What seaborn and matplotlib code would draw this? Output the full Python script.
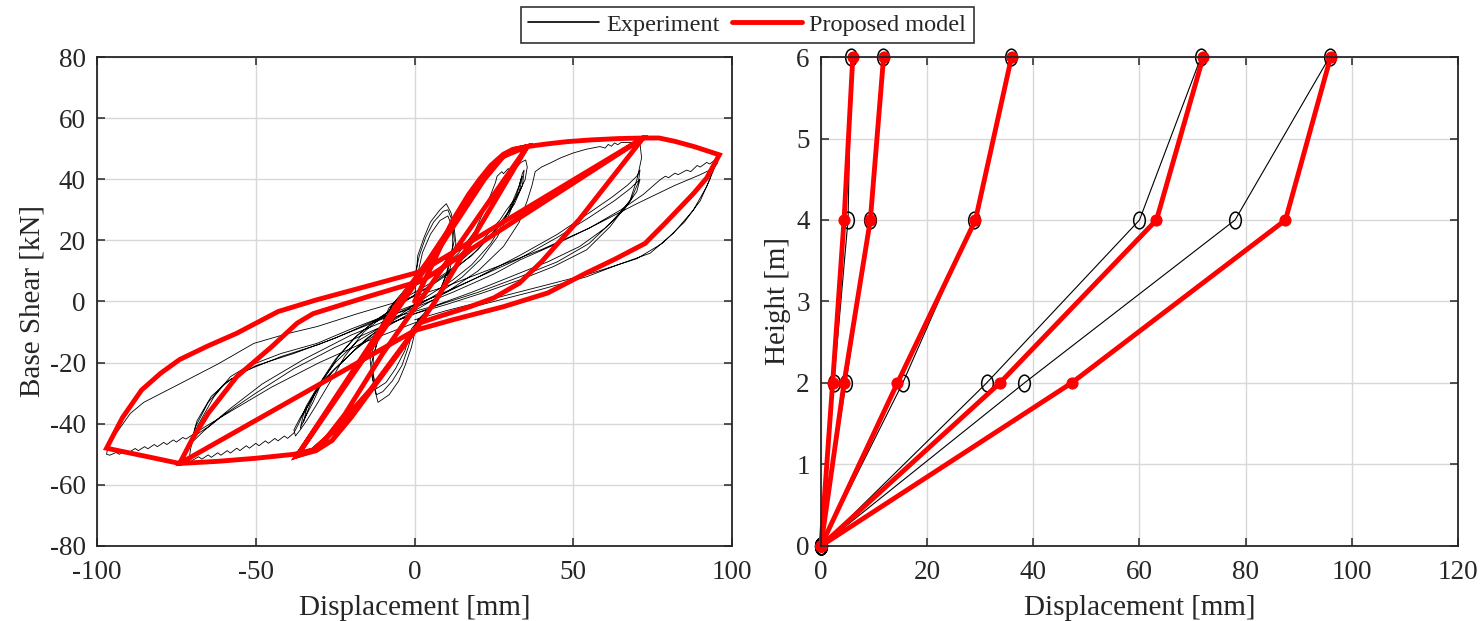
import numpy as np
import pandas as pd
import matplotlib
matplotlib.use("Agg")
import matplotlib.pyplot as plt
import seaborn as sns
from matplotlib.lines import Line2D
from matplotlib.path import Path
from matplotlib.transforms import Affine2D

# ---------------- data: hysteresis (left) ----------------
exp_x = [0, 0.5, 1, 3, 5, 8, 10, 11.5, 12.5, 13, 11, 8, 5, 1, -1, -3, -5, -8, -11.5, -12.5, -13.5, -14, -11.5, -8, -4,
         0, 1.5, 3.5, 6, 9, 10.5, 12, 12.5, 10.5, 7.5, 4, 0, -2, -4, -7, -10, -12, -13, -13.5, -11, -7.5, -3,
         1, 2.5, 5, 8, 10.5, 12, 12, 10, 7, 3, -1, -3, -6, -9, -12, -13, -13, -10.5, -7, -3,
         2, 8, 14, 19, 22, 24, 25.5, 26, 27.5, 28, 29.5, 30, 31.5, 32, 33.5, 35,
         35.5, 34.8, 32.2, 29, 26.9, 19.6, 11.2, 5, 0, -5, -10, -16, -22, -27, -31, -34, -36, -37.5,
         -38, -36, -33, -30, -25, -18, -10, -4, 0, 6, 12, 18, 24, 28, 31, 33, 34, 34.5,
         34, 31.5, 27, 20, 12, 5, 0, -6, -12, -18, -24, -29, -32, -34.5, -36,
         -35, -32, -28, -22, -15, -8, 0, 8, 15, 21, 26, 30, 32.5, 33.5, 34,
         33, 30, 25, 18, 10, 3, -5, -12, -19, -25, -30, -33, -35,
         -34, -31, -26, -19, -10, 0, 10, 20, 28, 33, 35.5, 37, 38, 40, 42.7, 46, 50, 54, 58.4, 60, 61, 62, 63, 64, 65, 68, 71,
         71.5, 70.5, 70, 67.9, 61.6, 54.2, 43.7, 33, 22, 10, 0, -10, -18, -25, -30, -34, -36.5, -38,
         -40, -41, -43, -44, -46, -47, -49, -50, -52, -53, -55, -56, -58, -59, -61, -62, -64, -65, -67, -68, -70, -71,
         -70.5, -68.5, -63.2, -58, -52.8, -42, -30.7, -20, -10, 0, 10, 20, 33, 45, 55, 62, 67, 70, 71,
         70.5, 68, 62, 55, 45, 33, 20, 8, 0, -12, -25, -38, -50, -60, -66, -70,
         -69, -65, -60, -54, -42, -30, -18, -6, 5, 18, 33, 45, 55, 63, 68, 71,
         70, 66, 60, 52, 42, 30, 18, 6, -6, -20, -35, -48, -58, -65, -70,
         -68.5, -64, -58, -50, -38, -25, -12, 0, 12, 25, 33.2, 45, 55, 65, 72, 77.3, 79, 80, 82, 83, 85.7, 87, 89, 90, 92, 93, 94.6, 95.5,
         94.6, 92, 87.8, 81.5, 74.2, 64, 54.2, 40, 25, 10, 0, -15, -30, -45, -58, -66, -72,
         -73, -75, -76, -78, -79, -81, -82, -84, -85, -87, -88, -90, -91, -93, -94, -96, -97,
         -96.5, -94.7, -89.5, -85.3, -75, -62, -50.6, -40, -30.7, -18, -5, 10, 25, 40, 55, 70, 82, 90, 94,
         93, 90, 85, 78, 70, 55, 40, 25, 10, 0]
exp_y = [0, 8, 15, 21, 26, 30, 32, 29, 24, 19, 10, 2, -2, -6, -15, -21, -26, -30.5, -33, -29, -24, -19, -10, -2, 2,
         8, 15, 21, 26, 29.5, 30, 26, 20, 10, 2, -3, -8, -15, -21, -26, -29.5, -30.5, -26, -20, -10, -2, 3,
         9, 16, 22, 26.5, 28, 24, 18, 9, 1, -4, -9, -16, -22, -26.5, -28.5, -24, -18, -9, -1, 4,
         6, 10, 16, 23, 30, 35, 39, 41, 42.5, 41.8, 43.5, 42.8, 44.5, 43.8, 45.5, 46.3,
         44, 39.8, 34.3, 30, 26.7, 17.9, 10.3, 6, 3, 0, -5, -10, -18, -27, -34, -39, -42, -44,
         -42, -38, -33, -28, -22, -15, -8, -4, -1, 3, 7, 12, 19, 26, 33, 38, 42, 43,
         38, 32, 25, 17, 10, 5, 2, -2, -6, -11, -18, -26, -33, -38, -41.5,
         -37, -31, -25, -19, -12, -7, -2, 3, 8, 14, 21, 29, 36, 40, 41,
         36, 30, 23, 15, 9, 4, -1, -6, -12, -19, -27, -34, -39.5,
         -35, -29, -23, -16, -9, -3, 3, 10, 18, 26, 33, 38, 42.5, 44, 45.3, 47, 48.6, 49.8, 50.7, 50.2, 51.4, 50.8, 51.9, 51.3, 52, 52, 51.8,
         47, 42, 39.8, 33.2, 24.5, 16.9, 11.4, 7, 3, -1, -4, -8, -13, -20, -27, -34, -40, -43,
         -44.8, -44, -45.6, -44.8, -46.4, -45.6, -47.2, -46.4, -48, -47.2, -48.8, -48, -49.6, -48.8, -50.3, -49.5, -51, -50.2, -51.6, -50.8, -52, -51.5,
         -48, -41, -31.2, -24.6, -21.3, -17, -13.7, -9, -5, -1, 3, 8, 15, 22, 29, 34, 38, 41, 43,
         39, 33, 26, 19, 13, 8, 3, -1, -4, -9, -15, -22, -30, -37, -42, -46,
         -41, -33, -27, -23, -18, -14, -9, -4, 1, 7, 14, 21, 27.5, 33, 37, 40,
         36, 30, 24, 18, 13, 8, 3, -1.5, -5, -11, -19, -27, -35, -41, -44.5,
         -39, -31, -25.5, -21, -17, -12, -6, -2, 3, 9, 13.6, 19, 24, 30, 35, 39.8, 41, 40.5, 42, 41.5, 43, 42.5, 44.5, 44, 45.5, 45, 46.3, 45.5,
         44, 37.6, 29.9, 22.3, 15.8, 12, 8.1, 4, 0, -4, -7, -13, -20, -28, -36, -41, -45,
         -44.5, -46, -45.3, -46.8, -46.1, -47.5, -46.8, -48.2, -47.5, -48.8, -48.1, -49.4, -48.7, -50, -49.4, -50.3, -50,
         -47, -44.2, -36.6, -33, -27.5, -20.5, -13.7, -10.5, -8.2, -4, 0, 5, 11, 17, 24, 32, 38, 41.5, 43.5,
         40, 33, 26, 19, 14, 9, 5, 1, -3, -6]

model_x = [0, 6, 12, 17, 20.5, 24, 28, 31, 35.5,
           6.5, -3, -20, -26, -31, -37,
           -5, 4, 20, 26, 31, 35.5,
           1.5, -10, -22, -28, -32, -37,
           -1, 10, 22, 28, 35.5,
           42, 48, 56, 64, 72,
           52, 40, 33, 25, 17.5, 8, 1.7, -14, -26, -32, -38,
           -50, -62, -74,
           -70, -65, -56, -45, -37, -32, -15, 2.7,
           72, 77, 82, 88, 96,
           92, 88, 79, 72.6, 63, 54, 42, 28, 12, 0,
           -74, -84, -97,
           -92, -86, -80, -74, -65, -56, -43, -31, -15, 2, 72]
model_y = [0, 13, 26.5, 35, 40, 44.5, 48.2, 49.8, 50.7,
           0, -14, -38, -45.5, -48.8, -50.5,
           0, 13, 38, 46, 49.6, 50.7,
           0, -17, -37, -45, -48.6, -50.5,
           4, 21, 40, 47.5, 50.7,
           51.6, 52.3, 52.9, 53.3, 53.5,
           27, 13, 6, 1.2, -1.7, -4.8, -7, -29, -43, -48.6, -50,
           -51.3, -52.3, -53,
           -45, -36.6, -24.6, -14.8, -7.1, -4, 1.5, 7,
           53.5, 53.5, 52.4, 50.7, 48,
           40.4, 35.5, 25.7, 19, 13.8, 9.3, 2.8, -1.7, -6, -9.5,
           -53, -50.8, -48,
           -38, -29, -23.5, -19, -14.5, -10.4, -3.3, 0.5, 5, 9.8, 53.5]

# ---------------- data: displacement profiles (right) ----------------
heights = [0, 2, 4, 6]
exp_profiles = [[0, 2.4, 5.1, 5.7],
                [0, 4.7, 9.3, 11.6],
                [0, 15.4, 28.9, 35.8],
                [0, 31.2, 60.0, 71.6],
                [0, 38.3, 78.0, 95.8]]
model_profiles = [[0, 2.2, 4.35, 6.0],
                  [0, 4.35, 9.3, 11.8],
                  [0, 14.4, 29.1, 35.9],
                  [0, 33.7, 63.2, 72.0],
                  [0, 47.2, 87.5, 96.0]]

# ---------------- style ----------------
sns.set_style("ticks")
plt.rcParams['font.family'] = ['Liberation Serif', 'DejaVu Serif']
plt.rcParams['axes.unicode_minus'] = False
TICK_FS = 19.5
LAB_FS = 21
SPINE_C = '#262626'
GRID_C = '#d8d8d8'

fig = plt.figure(figsize=(14.84, 6.21), dpi=100)
ax1 = fig.add_axes([0.0654, 0.1208, 0.4279, 0.7874])
ax2 = fig.add_axes([0.5532, 0.1208, 0.4293, 0.7874])

def style_axes(ax):
    ax.grid(True, color=GRID_C, lw=1.0)
    ax.set_axisbelow(True)
    for s in ax.spines.values():
        s.set_color(SPINE_C)
        s.set_linewidth(1.3)
    ax.tick_params(direction='in', top=True, right=True, length=6, width=1.1,
                   color=SPINE_C, labelsize=TICK_FS, labelcolor='#262626')
    ax.tick_params(axis='x', pad=10)
    ax.tick_params(axis='y', pad=8)

# left panel
df_exp = pd.DataFrame({'x': exp_x, 'y': exp_y})
df_mod = pd.DataFrame({'x': model_x, 'y': model_y})
sns.lineplot(data=df_exp, x='x', y='y', sort=False, estimator=None, color='black', lw=0.6, ax=ax1)
sns.lineplot(data=df_mod, x='x', y='y', sort=False, estimator=None, color='#ff0000', lw=3.5, ax=ax1,
             solid_joinstyle='miter')
ax1.set_xlim(-100, 100)
ax1.set_ylim(-80, 80)
ax1.set_xticks([-100, -50, 0, 50, 100])
ax1.set_yticks(np.arange(-80, 81, 20))
ax1.set_xlabel('Displacement [mm]', fontsize=LAB_FS, labelpad=7)
ax1.set_ylabel('Base Shear [kN]', fontsize=LAB_FS, labelpad=3)
style_axes(ax1)

# right panel
ell = Path.unit_circle().transformed(Affine2D().scale(0.7, 1.0))
for prof in exp_profiles:
    d = pd.DataFrame({'x': prof, 'y': heights})
    sns.lineplot(data=d, x='x', y='y', sort=False, estimator=None, color='black', lw=0.8, ax=ax2,
                 marker=ell, markersize=12, markerfacecolor='none', markeredgecolor='black',
                 markeredgewidth=1.1, clip_on=False)
for prof in model_profiles:
    d = pd.DataFrame({'x': prof, 'y': heights})
    sns.lineplot(data=d, x='x', y='y', sort=False, estimator=None, color='#ff0000', lw=3.5, ax=ax2,
                 marker='o', markersize=8, markerfacecolor='#ff0000', markeredgecolor='#ff0000',
                 clip_on=False)
ax2.set_xlim(0, 120)
ax2.set_ylim(0, 6)
ax2.set_xticks(np.arange(0, 121, 20))
ax2.set_yticks(np.arange(0, 7, 1))
ax2.set_xlabel('Displacement [mm]', fontsize=LAB_FS, labelpad=7)
ax2.set_ylabel('Height [m]', fontsize=LAB_FS, labelpad=4)
style_axes(ax2)

handles = [Line2D([], [], color='black', lw=1.2), Line2D([], [], color='#ff0000', lw=3.5)]
leg = fig.legend(handles, ['Experiment', 'Proposed model'], loc='center', bbox_to_anchor=(0.5035, 0.96),
                 ncol=2, frameon=True, fancybox=False, fontsize=17.5, handlelength=2.9,
                 handletextpad=0.3, columnspacing=0.5, borderpad=0.3, borderaxespad=0)
leg.get_frame().set_edgecolor('black')
leg.get_frame().set_linewidth(1.2)

fig.savefig('out.png', dpi=100)
